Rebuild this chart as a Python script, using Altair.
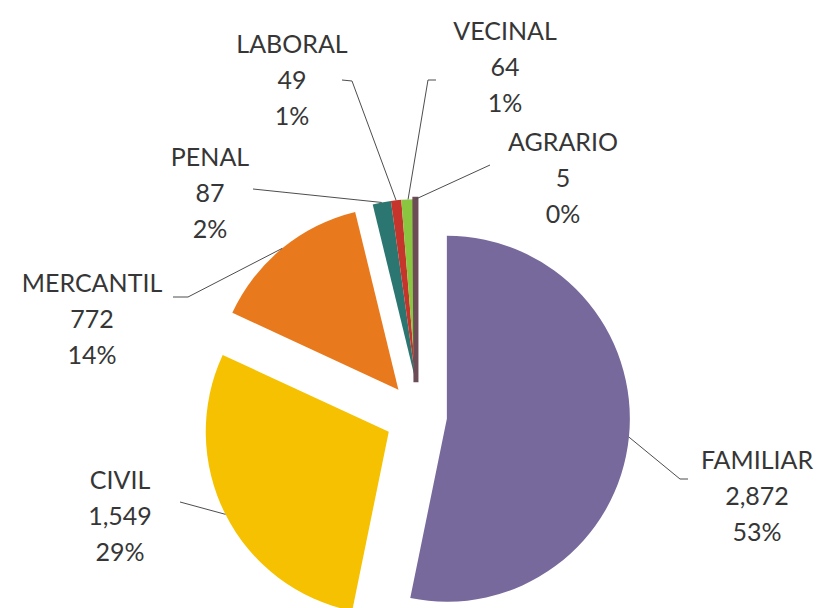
import altair as alt
import pandas as pd

# ---- data ----
categories = ["FAMILIAR", "CIVIL", "MERCANTIL", "PENAL", "LABORAL", "VECINAL", "AGRARIO"]
counts = [2872, 1549, 772, 87, 49, 64, 5]

# ---- style / layout (not data) ----
colors = ["#77699b", "#f5c100", "#e9791d", "#2b7670", "#c6352b", "#8bc640", "#6b4c57"]
explode_group = ["A", "B", "C", "D", "D", "D", "D"]
explode_dist = [27, 35, 34, 34, 34, 34, 34]
label_x = [749, 112, 84, 202, 284, 497, 555]
label_y = [453, 473, 276, 150, 37, 24, 135]
elbow_x = [672, 172, 180, 245, 344, 420, 482]
elbow_y = [471, 494, 289, 181, 73, 72, 157]
end_x = [680, 172, 165, 245, 334, 428, 482]
end_y = [471, 494, 289, 181, 72, 72, 157]

CX, CY, R = 412, 408, 183
FONT = "Lato"
FS = 25
LH = 36
TXT = "#363636"

df = pd.DataFrame({
    "cat": categories, "value": counts, "order": list(range(len(categories))),
    "group": explode_group, "explode": explode_dist,
    "lx": label_x, "ly": label_y, "ex": elbow_x, "ey": elbow_y, "tx": end_x, "ty": end_y,
})

base = (
    alt.Chart(df)
    .transform_window(cum="sum(value)", sort=[alt.SortField("order")], frame=[None, 0])
    .transform_joinaggregate(total="sum(value)")
    .transform_calculate(
        a0="2*PI*(datum.cum-datum.value)/datum.total",
        a1="2*PI*datum.cum/datum.total",
        pct="datum.value/datum.total",
    )
    .transform_calculate(mid="(datum.a0+datum.a1)/2")
    .transform_joinaggregate(g0="min(a0)", g1="max(a1)", groupby=["group"])
    .transform_calculate(gmid="(datum.g0+datum.g1)/2")
    .transform_calculate(
        cx=f"{CX} + datum.explode*sin(datum.gmid)",
        cy=f"{CY} - datum.explode*cos(datum.gmid)",
    )
    .transform_calculate(
        sx=f"datum.cx + {R}*sin(datum.mid)",
        sy=f"datum.cy - {R}*cos(datum.mid)",
        vtxt="format(datum.value, ',')",
        ptxt="format(datum.pct, '.0%')",
    )
)

color_scale = alt.Scale(domain=categories, range=colors)

arcs = base.mark_arc(outerRadius=R, innerRadius=0).encode(
    x=alt.X("cx:Q", scale=None),
    y=alt.Y("cy:Q", scale=None),
    theta=alt.Theta("a0:Q", scale=None, stack=None),
    theta2="a1:Q",
    color=alt.Color("cat:N", scale=color_scale, legend=None),
    stroke=alt.Stroke("cat:N", scale=color_scale, legend=None),
    strokeWidth=alt.condition(alt.datum.cat == "AGRARIO", alt.value(5), alt.value(0)),
)

lead1 = base.mark_rule(color="#4d4d4d", strokeWidth=1).encode(
    x=alt.X("sx:Q", scale=None), y=alt.Y("sy:Q", scale=None),
    x2="ex:Q", y2="ey:Q",
)
lead2 = base.mark_rule(color="#4d4d4d", strokeWidth=1).encode(
    x=alt.X("ex:Q", scale=None), y=alt.Y("ey:Q", scale=None),
    x2="tx:Q", y2="ty:Q",
)

def txt(field, dy):
    return base.mark_text(font=FONT, fontSize=FS, color=TXT, align="center",
                          baseline="middle", dy=dy).encode(
        x=alt.X("lx:Q", scale=None), y=alt.Y("ly:Q", scale=None),
        text=alt.Text(field),
    )

chart = (
    alt.layer(arcs, lead1, lead2, txt("cat:N", 0), txt("vtxt:N", LH), txt("ptxt:N", 2 * LH))
    .properties(width=809, height=592, padding=0)
    .configure_view(stroke=None)
)

chart.save("out.html", embed_options={"renderer": "svg", "actions": False})
